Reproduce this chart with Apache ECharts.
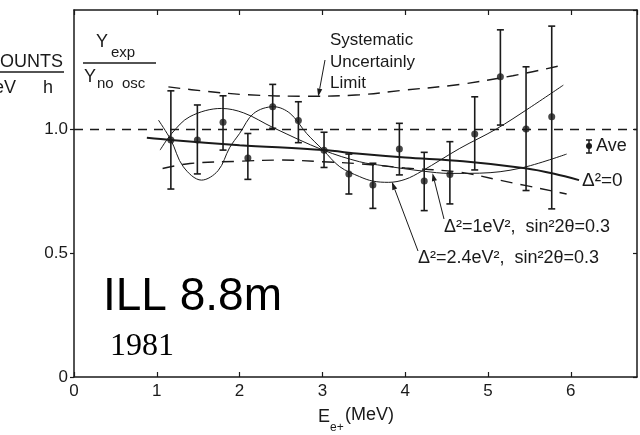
<!DOCTYPE html>
<html>
<head>
<meta charset="utf-8">
<script src="https://cdn.jsdelivr.net/npm/echarts@6/dist/echarts.min.js"></script>
<style>
html, body { margin: 0; padding: 0; background: #fff; }
#main { width: 640px; height: 435px; }
</style>
</head>
<body>
<div id="main"></div>
<script>
// measured points: positron energy (MeV) and Yexp / Yno osc
var energy = [1.17, 1.49, 1.80, 2.10, 2.40, 2.71, 3.02, 3.32, 3.61, 3.93, 4.23, 4.54, 4.84, 5.15, 5.46, 5.77];
var ratio  = [0.956, 0.956, 1.027, 0.883, 1.09, 1.034, 0.914, 0.819, 0.774, 0.919, 0.79, 0.817, 0.98, 1.211, 1.0, 1.05];
var errLow = [0.758, 0.819, 0.915, 0.797, 1.003, 0.945, 0.845, 0.738, 0.68, 0.815, 0.671, 0.698, 0.835, 1.016, 0.752, 0.678];
var errHigh = [1.154, 1.097, 1.134, 0.982, 1.18, 1.11, 0.987, 0.899, 0.862, 1.023, 0.906, 0.949, 1.13, 1.40, 1.251, 1.415];

// curves
var noOsc = [[0.88, 0.965], [1.17, 0.956], [2.0, 0.935], [3.01, 0.915], [3.45, 0.9], [4.0, 0.885], [4.7, 0.87], [5.45, 0.842], [5.8, 0.82], [6.1, 0.794]];
var osc1 = [[1.04, 0.915], [1.18, 0.982], [1.4, 1.05], [1.78, 1.083], [2.05, 1.065], [2.41, 1.005], [3.01, 0.915], [3.45, 0.868], [3.74, 0.852], [4.22, 0.83], [4.54, 0.821], [4.9, 0.822], [5.39, 0.842], [5.95, 0.899]];
var osc24 = [[1.02, 1.036], [1.17, 0.956], [1.32, 0.848], [1.54, 0.794], [1.74, 0.832], [1.88, 0.925], [2.0, 0.982], [2.17, 1.063], [2.41, 1.09], [2.61, 1.063], [2.81, 0.982], [3.01, 0.915], [3.21, 0.848], [3.45, 0.808], [3.61, 0.79], [3.8, 0.785], [4.0, 0.797], [4.2, 0.83], [4.66, 0.922], [5.1, 1.0], [5.5, 1.085], [5.91, 1.177]];
var sysUpper = [[1.14, 1.17], [1.6, 1.152], [2.1, 1.138], [2.8, 1.132], [3.45, 1.138], [3.94, 1.155], [4.66, 1.18], [5.3, 1.215], [5.91, 1.258]];
var sysLower = [[1.07, 0.841], [1.4, 0.861], [2.0, 0.87], [2.5, 0.875], [3.0, 0.868], [3.45, 0.86], [4.0, 0.843], [4.66, 0.826], [5.15, 0.793], [5.95, 0.738]];

var xTicks = [0, 1, 2, 3, 4, 5, 6];
var yTickLabels = {'0': '0', '0.5': '0.5', '1': '1.0'};

var ink = '#1a1a1a';
var font = 'Liberation Sans';

var chart = echarts.init(document.getElementById('main'));

var barData = energy.map(function (e, i) { return [e, errLow[i], errHigh[i]]; });
var dotData = energy.map(function (e, i) { return [e, ratio[i]]; });

function axisX(pos, showLabel) {
    return {
        type: 'value', position: pos, min: 0, max: 6.8, interval: 1,
        axisLine: {onZero: false, lineStyle: {color: ink, width: 1.5}},
        axisTick: {inside: true, length: 5, lineStyle: {color: ink, width: 1.2}},
        axisLabel: {
            show: showLabel, color: ink, fontSize: 17, fontFamily: font, margin: 6, showMaxLabel: false,
            formatter: function (v) { return xTicks.indexOf(v) >= 0 ? String(v) : ''; }
        },
        splitLine: {show: false}
    };
}
function axisY(pos, showLabel) {
    return {
        type: 'value', position: pos, min: 0, max: 1.48, interval: 0.5,
        axisLine: {onZero: false, lineStyle: {color: ink, width: 1.5}},
        axisTick: {inside: !showLabel, length: 4, lineStyle: {color: ink, width: 1.2}},
        axisLabel: {
            show: showLabel, color: ink, fontSize: 17, fontFamily: font, margin: 6, showMaxLabel: false,
            formatter: function (v) { return yTickLabels[String(v)] || ''; }
        },
        splitLine: {show: false}
    };
}

function curve(data, width, dash) {
    return {
        type: 'line', data: data, smooth: 0.35, showSymbol: false, silent: true,
        lineStyle: {color: ink, width: width, type: dash || 'solid'}
    };
}

var option = {
    animation: false,
    backgroundColor: '#fff',
    grid: {left: 74, right: 3, top: 10, bottom: 58},
    xAxis: [axisX('bottom', true), axisX('top', false)],
    yAxis: [axisY('left', true), axisY('right', false)],
    series: [
        {
            type: 'custom',
            data: barData,
            silent: true,
            renderItem: function (params, api) {
                var top = api.coord([api.value(0), api.value(2)]);
                var bot = api.coord([api.value(0), api.value(1)]);
                var c = 3.5;
                var st = {stroke: ink, lineWidth: 1.6};
                return {
                    type: 'group',
                    children: [
                        {type: 'line', shape: {x1: top[0], y1: top[1], x2: bot[0], y2: bot[1]}, style: st},
                        {type: 'line', shape: {x1: top[0] - c, y1: top[1], x2: top[0] + c, y2: top[1]}, style: st},
                        {type: 'line', shape: {x1: bot[0] - c, y1: bot[1], x2: bot[0] + c, y2: bot[1]}, style: st}
                    ]
                };
            }
        },
        {
            type: 'scatter', data: dotData, symbol: 'circle', symbolSize: 7, silent: true,
            itemStyle: {color: ink}
        },
        Object.assign(curve(noOsc, 2), {
            markLine: {
                symbol: 'none', silent: true, label: {show: false},
                lineStyle: {color: ink, width: 1.3, type: [9, 7]},
                data: [{yAxis: 1}]
            }
        }),
        curve(osc1, 1),
        curve(osc24, 1),
        curve(sysUpper, 1.4, [12, 8]),
        curve(sysLower, 1.4, [12, 8])
    ]
};
chart.setOption(option);

function txt(x, y, s, size, extra) {
    var st = {
        text: s, x: x, y: y, fill: ink, font: (size || 18) + 'px "' + font + '"',
        textAlign: 'left', align: 'left', textVerticalAlign: 'middle', verticalAlign: 'middle'
    };
    if (extra) Object.assign(st, extra);
    return {type: 'text', silent: true, style: st};
}
function arrow(x1, y1, x2, y2) {
    var dx = x2 - x1, dy = y2 - y1, L = Math.sqrt(dx * dx + dy * dy);
    var ux = dx / L, uy = dy / L, h = 8, w = 2.6;
    var bx = x2 - ux * h, by = y2 - uy * h;
    return [
        {type: 'line', silent: true, shape: {x1: x1, y1: y1, x2: bx, y2: by}, style: {stroke: ink, lineWidth: 1}},
        {type: 'polygon', silent: true, shape: {points: [[x2, y2], [bx - uy * w, by + ux * w], [bx + uy * w, by - ux * w]]}, style: {fill: ink}}
    ];
}

var tipSys = chart.convertToPixel({gridIndex: 0}, [2.95, 1.131]);
var tip1 = chart.convertToPixel({gridIndex: 0}, [4.33, 0.822]);
var tip24 = chart.convertToPixel({gridIndex: 0}, [3.84, 0.787]);

var g = [];
// y axis title
g.push(txt(63, 62, 'COUNTS', 18, {textAlign: 'right', align: 'right'}));
g.push({type: 'line', silent: true, shape: {x1: 0, y1: 72, x2: 64, y2: 72}, style: {stroke: ink, lineWidth: 1.3}});
g.push(txt(16, 88, 'MeV', 18, {textAlign: 'right', align: 'right'}));
g.push(txt(43, 88, 'h', 18));
g.push(txt(96, 42, 'Y', 18));
g.push(txt(111, 53, 'exp', 15));
g.push({type: 'line', silent: true, shape: {x1: 83, y1: 63, x2: 156, y2: 63}, style: {stroke: ink, lineWidth: 1.3}});
g.push(txt(84, 77, 'Y', 18));
g.push(txt(97, 84, 'no  osc', 15));
// x axis title
g.push(txt(318, 417, 'E', 18));
g.push(txt(330, 428, 'e+', 12));
g.push(txt(345, 415, '(MeV)', 18));
// annotations
g.push(txt(330, 40, 'Systematic', 17));
g.push(txt(330, 62, 'Uncertainly', 17));
g.push(txt(330, 83, 'Limit', 17));
g = g.concat(arrow(325, 60, tipSys[0], tipSys[1]));
g.push(txt(444, 227, 'Δ²=1eV²,  sin²2θ=0.3', 18));
g = g.concat(arrow(444, 219, tip1[0], tip1[1]));
g.push(txt(418, 258, 'Δ²=2.4eV²,  sin²2θ=0.3', 18));
g = g.concat(arrow(418, 251, tip24[0], tip24[1]));
g.push(txt(582, 181, 'Δ²=0', 19));
// Ave key
g.push({type: 'line', silent: true, shape: {x1: 589, y1: 140, x2: 589, y2: 153}, style: {stroke: ink, lineWidth: 1.5}});
g.push({type: 'line', silent: true, shape: {x1: 586, y1: 140, x2: 592, y2: 140}, style: {stroke: ink, lineWidth: 1.5}});
g.push({type: 'line', silent: true, shape: {x1: 586, y1: 153, x2: 592, y2: 153}, style: {stroke: ink, lineWidth: 1.5}});
g.push({type: 'circle', silent: true, shape: {cx: 589, cy: 146, r: 3}, style: {fill: ink}});
g.push(txt(596, 146, 'Ave', 18));
// title
g.push(txt(103, 297, 'ILL 8.8m', 46, {fill: '#000'}));
g.push(txt(110, 347, '1981', 32, {fill: '#000', font: '32px "Liberation Serif"'}));

chart.setOption({graphic: {elements: g}});
</script>
</body>
</html>
